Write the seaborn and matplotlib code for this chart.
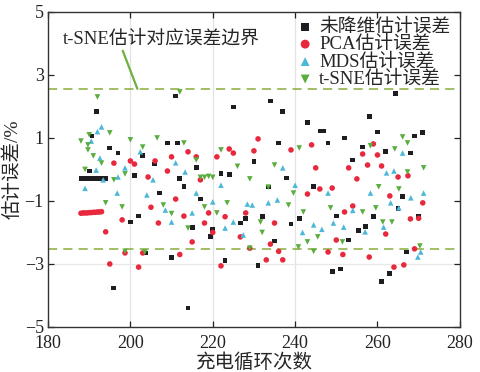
import numpy as np
import pandas as pd
import seaborn as sns
import matplotlib
matplotlib.use("Agg")
import matplotlib.pyplot as plt
from matplotlib.font_manager import FontProperties

# ---------------- data ----------------
black_x = [188, 189, 190, 191, 192, 193, 194, 190, 190.7, 191.7, 195, 196, 197, 200, 201, 202, 203, 203.6,
           205.8, 207, 209, 210, 211, 211.4, 212, 213, 214, 215, 216, 217, 219.4, 220, 222, 223, 224, 225,
           226.7, 228, 230, 231, 232, 233.5, 234, 235, 236, 237, 238, 239, 241, 243, 244.5, 246.2, 247, 248,
           249, 250, 251, 252, 253, 254, 255.4, 256.4, 257, 258, 259, 260, 261, 262, 263, 264.4, 265, 266,
           267, 268, 269, 270, 271]
black_y = [-0.30, -0.30, -0.30, -0.30, -0.30, -0.30, -0.28, -0.05, 1.06, 1.83, 0.68, -3.76, 0.52, -1.67, -0.20,
           -1.48, 0.43, -2.65, 0.17, -0.75, 0.84, -2.80, 2.33, 0.84, -0.30, -0.55, -4.40, -1.85, 0.05, -0.94,
           -2.14, -1.90, -0.14, -2.90, -0.17, 1.98, -1.70, -1.55, 0.24, -3.06, -1.50, -0.56, 2.17, -2.27, 0.84,
           1.83, -0.27, -1.73, -1.55, 1.48, -0.55, 1.22, 1.22, 0.84, -3.25, -1.48, -3.16, 1.00, -2.24, 0.30,
           -1.95, 0.71, -1.80, 1.67, -1.50, 1.19, -3.55, 0.56, -3.29, 2.40, -1.25, -0.85, -2.62, 0.52, 1.06,
           -1.48, 1.16]

red_x = [188, 188.5, 189, 189.5, 190, 190.5, 191, 191.5, 192, 192.5, 193, 194, 195, 196, 198, 198.7, 200, 201,
         202, 203, 204.3, 205, 206, 206.8, 209, 210, 211, 212, 213, 214, 215, 216, 217, 218, 219, 220, 221,
         222, 223, 224, 225, 226.7, 228, 229, 230, 231, 233, 234, 235, 236, 237, 239, 243, 244, 245, 246, 248,
         249, 250, 251.6, 252, 253, 254, 255, 256.4, 257.6, 258, 259, 260, 261, 262, 263, 264, 265, 266.4,
         267.4, 268, 269, 270, 271]
red_y = [-1.39, -1.38, -1.38, -1.38, -1.37, -1.37, -1.36, -1.36, -1.35, -1.35, -1.34, -1.98, -3.00, 0.20,
         -1.60, -2.65, 0.27, 0.17, -3.10, -2.65, -0.24, -1.20, 0.27, -1.70, -0.05, 0.40, -0.94, -2.70, -1.48,
         0.56, -2.30, 0.40, -0.33, -1.70, -1.38, -2.00, 0.40, -3.06, -1.50, 0.65, 0.52, -2.14, -1.38, -2.50,
         0.59, 0.97, -2.87, -2.37, -1.70, -2.60, -2.87, 0.62, -0.78, 0.78, 0.05, -0.62, -2.62, -0.59, -2.24,
         -2.70, -1.35, 0.05, -1.16, -0.30, 0.49, 0.14, -2.78, 0.81, 0.46, 0.11, -2.05, -0.84, -3.10, -0.24,
         -3.03, -0.20, -1.57, -2.52, -1.55, -1.06]

mds_x = [189, 190.5, 192, 193, 192.6, 191.7, 193.4, 196.8, 197, 198.7, 202.4, 204, 205.5, 208.5, 210, 211,
         213.3, 215, 216, 220, 222, 223, 225, 227.4, 228.4, 229.6, 233.5, 235.7, 237, 240, 241.8, 244.5,
         246.5, 248, 249.3, 251.8, 254, 257, 258.3, 261.5, 262.2, 263.2, 264, 265.2, 266.1, 268.1, 269.8,
         270.5, 271.2]
mds_y = [-0.60, 0.90, 1.20, 1.35, 0.36, -0.02, -0.33, -0.75, -0.24, 0.05, 0.56, -0.81, -0.33, -1.29, -1.67,
         0.21, -0.08, -1.38, -0.75, -1.03, -0.50, -1.86, -1.67, -2.08, -1.10, -1.13, -1.06, -0.97, 0.05, -0.50,
         -2.00, -1.76, -1.90, -0.75, -1.70, -1.83, -1.30, -1.98, -0.75, -1.83, -0.11, -1.06, -0.05, -1.22, 0.52,
         -0.90, -2.78, -2.62, -0.75]

tsne_x = [188, 189, 189.7, 189.7, 190, 191, 192, 193, 194, 195, 196, 198, 198.7, 198.7, 200, 203, 203.5,
          206.5, 208, 210, 212, 213, 214, 216, 217, 218, 219, 220, 218, 221, 222, 223.5, 226, 229, 229,
          231.6, 232, 233.5, 235, 238.4, 239.6, 240.8, 241, 242, 243, 244.5, 245.5, 248.6, 251.5, 256.4,
          258.3, 259.6, 260.3, 261.3, 263.5, 264.2, 265.2, 266.1, 267.3, 267.3, 270.3, 271.2]
tsne_y = [0.90, 0.00, 0.78, 0.62, 1.10, 0.43, 2.30, 0.20, -1.06, 1.16, -0.33, -1.19, -0.14, -2.60, 0.94, 0.71,
          -2.62, 1.00, -1.13, -1.40, 2.46, 0.84, -1.86, 0.30, -0.25, -0.25, -0.22, -0.25, -1.19, -1.38, 0.62,
          -1.06, 0.10, -2.50, -0.30, -1.67, -2.00, -0.56, 0.14, -1.13, -0.75, -2.46, 0.68, -1.35, -2.30, -2.60,
          -2.14, -1.22, -2.30, -1.35, 0.75, -1.22, -0.55, -1.67, -1.67, 0.65, -0.62, 1.03, 0.84, -0.08, -2.43,
          0.05]

upper_bound = 2.56
lower_bound = -2.52

x_ticks = [180, 200, 220, 240, 260, 280]
y_ticks = [5, 3, 1, -1, -3, -5]

series_names = ["未降维估计误差", "PCA估计误差", "MDS估计误差", "t-SNE估计误差"]
annot_text = "t-SNE估计对应误差边界"
x_label = "充电循环次数"
y_label = "估计误差/%"

# ---------------- style ----------------
sns.set_style("ticks")
fam = ["Liberation Serif", "Noto Sans CJK SC", "DejaVu Sans"]
plt.rcParams["font.family"] = fam
plt.rcParams["axes.unicode_minus"] = False

fig = plt.figure(figsize=(4.8, 3.72), dpi=100)
ax = fig.add_axes([0.100, 0.121, 0.858, 0.847])

# faint grid lines
for gx in [200, 220, 240]:
    ax.axvline(gx, color="#e3e3e3", lw=0.9, zorder=0)
ax.axhline(-3, color="#e8e8e8", lw=0.9, zorder=0)

colors = ["#1e1e22", "#e8283c", "#4cb8d8", "#58ad3c"]
markers = ["s", "o", "^", "v"]
sizes = [12, 16, 16, 16]
xs = [black_x, red_x, mds_x, tsne_x]
ys = [black_y, red_y, mds_y, tsne_y]

for name, xv, yv, c, m, s in zip(series_names, xs, ys, colors, markers, sizes):
    df = pd.DataFrame({"x": xv, "y": yv})
    sns.scatterplot(data=df, x="x", y="y", ax=ax, color=c, marker=m, s=s,
                    edgecolor="none", linewidth=0, label=name, zorder=3)

ax.axhline(upper_bound, color="#8aab3a", lw=1.1, ls=(0, (6, 4)), zorder=2)
ax.axhline(lower_bound, color="#8aab3a", lw=1.1, ls=(0, (6, 4)), zorder=2)

ax.annotate(annot_text, xy=(201.7, upper_bound), xytext=(183.5, 4.15),
            fontsize=13.5, va="center", ha="left", family=fam,
            arrowprops=dict(arrowstyle="-", color="#6fb040", lw=1.6,
                            shrinkA=0, shrinkB=0,
                            relpos=(0.3, 0.0)))

ax.set_xlim(180, 280)
ax.set_ylim(-5, 5)
ax.set_xticks(x_ticks)
ax.set_yticks(y_ticks)
ax.set_xticklabels([str(v) for v in x_ticks])
ax.set_yticklabels([str(v).replace("-", "\u2212") if v < 0 else str(v) for v in y_ticks])
ax.tick_params(direction="in", top=True, right=True, labelsize=13, length=4, width=0.9,
               pad=3, colors="#222222")
ax.tick_params(axis="x", pad=6)
for sp in ax.spines.values():
    sp.set_linewidth(1.0)
    sp.set_color("#333333")

ax.set_xlabel(x_label, fontsize=14, labelpad=1, family=fam)
ax.set_ylabel(y_label, fontsize=14, labelpad=2, family=fam)

leg = ax.legend(loc="upper right", bbox_to_anchor=(1.0, 1.01), frameon=False,
                handletextpad=0.25, labelspacing=0.0, borderaxespad=0.1,
                handlelength=1.0, markerscale=1.6,
                prop=FontProperties(family=fam, size=13.5))

fig.savefig("out.png", dpi=100)
